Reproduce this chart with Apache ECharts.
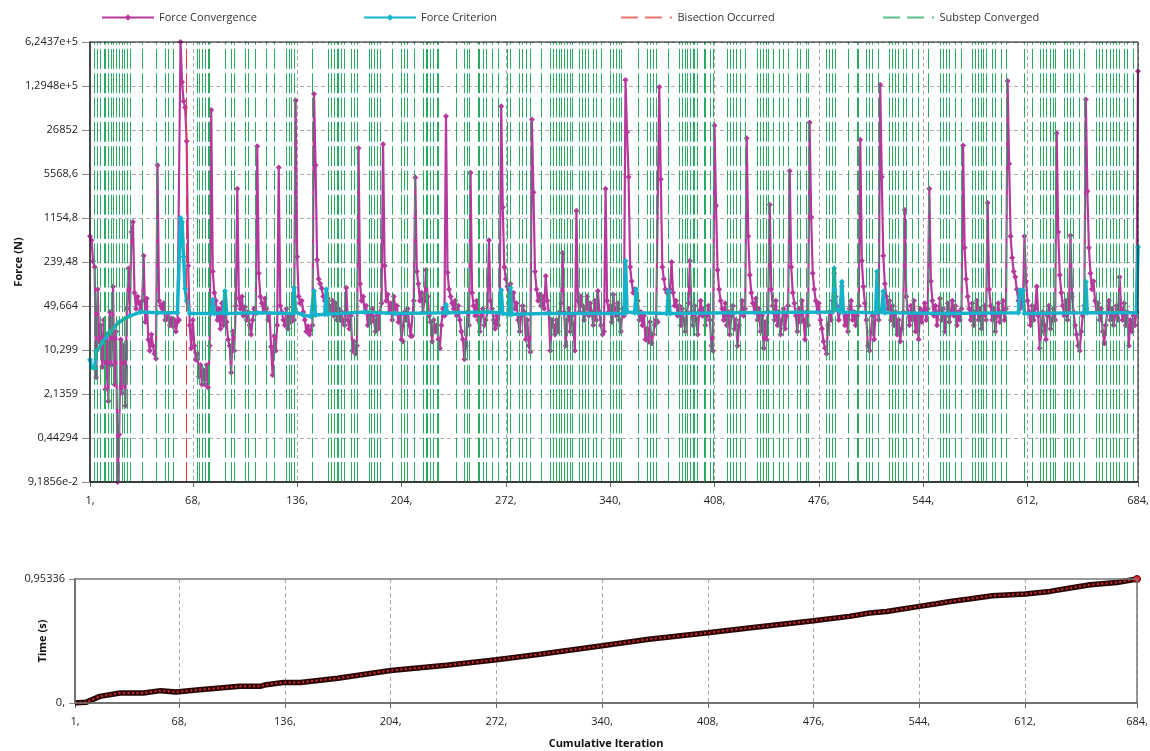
<!DOCTYPE html>
<html>
<head>
<meta charset="utf-8">
<title>Force Convergence</title>
<script src="https://cdn.jsdelivr.net/npm/echarts@6.0.0/dist/echarts.min.js"></script>
<style>
  html, body { margin: 0; padding: 0; background: #fff; }
  #chart { width: 1150px; height: 751px; }
</style>
</head>
<body>
<div id="chart"></div>
<script>
// x ticks (cumulative iteration)
const iterTicks = [1, 68, 136, 204, 272, 340, 408, 476, 544, 612, 684];
// log force axis: 10 equal steps from min to max
const forceMin = 0.091856;
const forceMax = 624370;
const forceTickLabels = ['9,1856e-2', '0,44294', '2,1359', '10,299', '49,664', '239,48',
  '1154,8', '5568,6', '26852', '1,2948e+5', '6,2437e+5'];

// force convergence, one value per iteration, grouped by start iteration
const forceConvSegments = [
  [1, [600, 520, 245, 200, 3.9, 90, 13.7, 25, 5.6, 30, 2.5, 18, 1.65, 40, 6, 100, 3, 20, 0.0919, 0.5,
       15, 2.2, 12, 1.4, 45, 190, 35, 700, 1000, 80]],
  [31, [45, 70, 55, 42, 60, 300, 28, 65, 15, 10, 18, 12, 9, 7.5, 7600, 60, 50, 45, 55, 30,
        31, 38, 25, 32, 24, 30, 20, 28, 30, 624370]],
  [61, [150000, 75000, 60000, 18000, 210]],
  [66, [25, 11, 30, 12, 7.3, 9, 4, 6, 3, 5, 3, 6, 2.7, 12, 55000]],
  [81, [170, 80, 60, 30, 45, 22, 55, 25, 60, 28, 15, 12, 4.6, 20, 10, 50, 3300, 65, 45, 70,
        35, 48, 30, 40, 25, 18, 30, 45, 38, 15000]],
  [111, [160, 70, 55, 40, 65, 45, 30, 38, 11.6, 4.2, 17, 10, 25, 7000, 50, 40, 30, 25, 45, 22,
         35, 28, 48, 30, 77000]],
  [136, [290, 70, 55, 60, 40, 30, 20, 24, 18, 21, 25, 97000]],
  [148, [7600, 260, 130, 110, 94, 70, 60, 45, 65, 50, 40, 60, 35, 55, 30, 45, 30, 40, 28, 25,
         95, 30, 22, 35, 10, 14, 9, 12, 14000]],
  [177, [110, 60, 70, 40, 50, 25, 38, 28, 45, 30, 20, 35, 22, 40, 55, 16200, 210, 60, 75, 40,
         55, 30, 70, 45, 50, 28, 35, 15, 14, 40, 30, 45, 25, 17, 17, 60, 4900]],
  [214, [170, 110, 60, 80, 40, 60, 180, 70, 35, 28, 14, 30, 20, 25, 15, 11, 25, 45, 35, 44000,
         165, 90, 70, 55, 45, 60, 35, 50, 30, 20, 15, 7.4, 12, 40, 25, 5800]],
  [250, [80, 50, 35, 60, 30, 20, 35, 45, 25, 30, 40, 520, 60, 45, 30, 22, 35, 25, 40, 63000,
         1700, 200, 130, 100, 70, 110, 60, 80, 45, 55, 30, 20, 35, 50, 40, 15, 30, 12, 9.6, 39000]],
  [290, [2900, 170, 90, 60, 75, 50, 70, 45, 145, 60, 40, 10, 30, 25, 18, 30, 20, 40, 55, 330,
         40, 12, 30, 45, 20, 35, 25, 10, 1500, 60, 40, 70, 50, 30, 45, 70, 35, 55, 40, 25,
         60, 30, 85, 40, 25, 18, 20, 3300, 60, 40, 50, 28, 75, 45, 35, 55, 30, 20, 45, 35, 160000]],
  [351, [25000, 5000, 200, 120, 80, 90, 50, 60, 30, 40, 25, 35, 15, 22, 14, 28, 13, 18, 25, 30,
         28, 125000, 4600, 200, 130, 90, 80, 60, 90, 240, 80, 50, 60, 35, 50, 25, 45, 30, 20, 40,
         55, 250, 40, 25, 50, 30, 18, 40, 60, 35, 45, 25, 35, 50, 30, 12, 10, 31400]],
  [409, [1800, 180, 90, 60, 45, 30, 55, 25, 40, 18, 35, 50, 22, 30, 12, 25, 40, 60, 35, 45,
         20000, 600, 150, 80, 55, 40, 65, 30, 45, 20, 35, 11, 28, 15, 40, 1850, 90, 50, 30, 60,
         25, 40, 18, 30, 45, 22, 35, 50, 6200, 200, 80, 55, 35, 20, 45, 28, 60, 30, 15, 40,
         25, 35000, 1200, 160, 90, 60, 40, 55, 30, 22, 14, 11, 9, 25, 40, 30, 60, 160, 70, 45,
         30, 50, 100, 40, 25, 35, 20, 45, 60, 30, 40, 25, 35, 50, 19000]],
  [504, [250, 100, 55, 30, 12, 10, 20, 35, 15, 40, 60, 30, 136000, 5000, 300, 110, 70, 45, 60, 30,
         50, 25, 40, 18, 30, 14, 22, 40, 1540, 70, 40, 25, 50, 30, 60, 20, 35, 15, 45, 28,
         40, 55, 30, 45, 3300, 120, 60, 35, 50, 25, 40, 65, 30, 45, 20, 35, 55, 28, 40, 60,
         35, 50, 25, 40, 30, 45, 15400]],
  [571, [400, 130, 70, 45, 30, 55, 25, 40, 60, 30, 45, 22, 35, 50, 30, 2000, 90, 50, 30, 45,
         20, 35, 55, 28, 40, 60, 30, 45, 155000, 8000, 600, 280, 170, 140, 90, 60, 45, 80, 50, 600,
         120, 60, 40, 25, 50, 30, 45, 100, 35, 11, 20, 40, 25, 15, 35, 50, 22, 30, 45, 30,
         24000]],
  [632, [700, 150, 80, 50, 35, 60, 30, 45, 620, 70, 40, 25, 18, 12, 10, 20, 35, 50, 80000, 3000,
         400, 160, 90, 120, 60, 40, 55, 30, 45, 20, 13, 25, 40, 60, 30, 45, 25, 35, 50, 30,
         140, 45, 30, 55, 25, 40, 12, 30, 20, 35, 25, 40, 220000]]
];

// force criterion, [iteration, value]
const forceCriterion = [[1, 7.3], [2, 5.6], [4, 5.3], [5, 9.8], [9, 13.4], [14, 19.7], [20, 28], [27, 35],
  [34, 40], [45, 39], [58, 39], [60, 1155], [61, 1000], [62, 290], [63, 93], [64, 60], [66, 38],
  [80, 38], [81, 62], [82, 38], [88, 39], [89, 85], [90, 38], [110, 39], [133, 38], [134, 95],
  [135, 40], [140, 36], [145, 34], [146, 35], [147, 85], [148, 36], [154, 37], [155, 90], [156, 37],
  [180, 40], [200, 38], [232, 39], [233, 52], [234, 39], [260, 40], [268, 39], [269, 88], [270, 38],
  [274, 37], [275, 95], [276, 37], [300, 38], [349, 38], [350, 248], [351, 40], [356, 39], [357, 90],
  [358, 39], [377, 38], [378, 85], [379, 38], [420, 39], [485, 40], [486, 192], [487, 45], [490, 40],
  [491, 118], [492, 40], [513, 39], [514, 170], [515, 40], [517, 40], [518, 84], [519, 39], [560, 38],
  [606, 39], [607, 87], [609, 87], [610, 38], [649, 39], [650, 118], [651, 39], [683, 39], [684, 409]];

// iterations where a substep converged / bisection happened
const substepConverged = [4, 6, 8, 10, 11, 13, 15, 16, 18, 20, 22, 23, 25, 27, 35, 44, 50, 52, 55,
  71, 72, 74, 76, 78, 79, 89, 93, 95, 102, 104, 109, 116, 121, 129, 131, 132, 134,
  146, 156, 158, 160, 162, 163, 165, 167, 171, 173, 175, 183, 184, 186, 188, 190, 198, 204, 206,
  208, 212, 218, 220, 221, 223, 225, 227, 228, 240, 245, 247, 248, 254, 255, 257, 259, 263, 267, 273,
  275, 281, 283, 285, 288, 295, 301, 303, 305, 307, 308, 310, 312, 314, 315, 320, 322, 324, 326,
  329, 331, 334, 340, 342, 344, 346, 347, 358, 364, 366, 368, 370, 378, 385, 387, 389, 390, 392,
  394, 395, 397, 401, 402, 405, 407,
  416, 418, 420, 422, 425, 428, 436, 438, 440, 442, 443, 446, 450, 453, 456, 462, 464, 468, 469,
  481, 483, 485, 487, 495, 501, 502, 507, 509, 511, 515, 522, 524, 526, 528, 531, 533, 537, 541,
  547, 555, 557, 559, 561, 565, 569, 576, 578, 580, 582, 583, 585, 589, 591, 595, 598, 610, 615,
  620, 622, 624, 627, 629, 630, 636, 638, 640, 642, 646, 649, 657, 659, 661, 663, 666, 668, 670,
  672, 675, 677, 681];
const bisectionOccurred = [64];

// time (s) against cumulative iteration
const timePoints = [[1, 0], [8, 0.005], [17, 0.051], [30, 0.077], [45, 0.077], [56, 0.095], [66, 0.085],
  [81, 0.102], [94, 0.115], [107, 0.128], [120, 0.128], [124, 0.141], [135, 0.158], [146, 0.158],
  [170, 0.19], [204, 0.25], [240, 0.29], [272, 0.333], [300, 0.375], [340, 0.44], [370, 0.49],
  [408, 0.54], [440, 0.585], [476, 0.633], [499, 0.666], [512, 0.692], [523, 0.704], [544, 0.743],
  [555, 0.763], [564, 0.781], [576, 0.8], [591, 0.825], [612, 0.838], [628, 0.858], [641, 0.884],
  [654, 0.909], [671, 0.927], [684, 0.95336]];
const timeMax = 0.95336;

// position on the 0..10 log axis
function level(v) {
  return Math.log(v / forceMin) / Math.log(forceMax / forceMin) * 10;
}

const forceConvData = [];
forceConvSegments.forEach(function (seg) {
  seg[1].forEach(function (v, k) {
    forceConvData.push([seg[0] + k, level(v)]);
  });
});
const forceCritData = forceCriterion.map(function (p) { return [p[0], level(p[1])]; });

const font = 'Open Sans';
const green = '#2aab62';
const red = '#e8383d';
const magenta = '#b5399c';
const cyan = '#14b3cc';
// dashed legend icon "— — ·"
const dashIcon = 'path://M0 0H17V2H0Z M24 0H41V2H24Z M49 0H51V2H49Z';

function iterAxis(gridIndex, name) {
  return {
    type: 'value', gridIndex: gridIndex, min: 1, max: 684,
    name: name, nameLocation: 'middle', nameGap: 30, nameMoveOverlap: false,
    nameTextStyle: { fontFamily: font, fontSize: 11, fontWeight: 'bold', color: '#111' },
    axisLine: { lineStyle: { color: '#666', width: 2 } },
    axisTick: { length: 5, customValues: iterTicks, lineStyle: { color: '#666' } },
    axisLabel: {
      customValues: iterTicks, margin: 13, fontFamily: font, fontSize: 11, color: '#222',
      formatter: function (v) { return v + ','; }
    },
    splitLine: { show: true, lineStyle: { color: '#aaa', type: [4, 3] } }
  };
}

function legendAt(left, item) {
  return {
    left: left, top: 12, padding: 0, itemWidth: 52, itemHeight: item.icon ? 2 : 8,
    data: [item], textStyle: { fontFamily: font, fontSize: 11, color: '#333' }
  };
}

const chart = echarts.init(document.getElementById('chart'));
chart.setOption({
  animation: false,
  backgroundColor: '#fff',
  legend: [
    legendAt(101, { name: 'Force Convergence' }),
    legendAt(363, { name: 'Force Criterion' }),
    legendAt(621, { name: 'Bisection Occurred', icon: dashIcon }),
    legendAt(883, { name: 'Substep Converged', icon: dashIcon })
  ],
  grid: [
    { left: 90, top: 42, width: 1048, height: 440, show: true, borderColor: '#111', borderWidth: 1,
      z: 10, outerBoundsMode: 'none' },
    { left: 75, top: 579, width: 1062, height: 124, show: true, borderColor: '#777', borderWidth: 1.5,
      z: 10, outerBoundsMode: 'none' }
  ],
  xAxis: [
    iterAxis(0, ''),
    Object.assign(iterAxis(1, 'Cumulative Iteration'), { nameGap: 35 })
  ],
  yAxis: [
    {
      type: 'value', gridIndex: 0, min: 0, max: 10, interval: 1,
      name: 'Force (N)', nameLocation: 'middle', nameGap: 66, nameMoveOverlap: false,
      nameTextStyle: { fontFamily: font, fontSize: 11, fontWeight: 'bold', color: '#111' },
      axisLine: { show: true, lineStyle: { color: '#7f7f7f', width: 2 } },
      axisTick: { show: true, length: 8, lineStyle: { color: '#888' } },
      axisLabel: {
        margin: 12, fontFamily: font, fontSize: 11, color: '#222',
        formatter: function (v) { return forceTickLabels[Math.round(v)]; }
      },
      splitLine: { show: true, lineStyle: { color: '#aaa', type: [4, 3] } }
    },
    {
      type: 'value', gridIndex: 1, min: 0, max: timeMax, interval: timeMax,
      name: 'Time (s)', nameLocation: 'middle', nameGap: 27, nameMoveOverlap: false,
      nameTextStyle: { fontFamily: font, fontSize: 11, fontWeight: 'bold', color: '#111' },
      axisLine: { show: true, lineStyle: { color: '#666', width: 2 } },
      axisTick: { show: true, length: 6, lineStyle: { color: '#888' } },
      axisLabel: {
        margin: 10, fontFamily: font, fontSize: 11, color: '#222',
        formatter: function (v) { return v === 0 ? '0,' : '0,95336'; }
      },
      splitLine: { show: false }
    }
  ],
  series: [
    {
      name: 'Substep Converged', type: 'line', xAxisIndex: 0, yAxisIndex: 0, data: [],
      symbol: 'none', color: '#5cbf88', z: 1,
      lineStyle: { color: '#5cbf88', width: 1.2 },
      markLine: {
        silent: true, symbol: 'none', label: { show: false }, animation: false,
        lineStyle: { color: green, width: 1, type: [20, 4.3] },
        data: substepConverged.map(function (i) { return { xAxis: i }; })
      }
    },
    {
      name: 'Bisection Occurred', type: 'line', xAxisIndex: 0, yAxisIndex: 0, data: [],
      symbol: 'none', color: '#ee7070', z: 2,
      lineStyle: { color: '#ee7070', width: 1.2 },
      markLine: {
        silent: true, symbol: 'none', label: { show: false }, animation: false,
        lineStyle: { color: red, width: 1, type: [20, 4.3] },
        data: bisectionOccurred.map(function (i) { return { xAxis: i }; })
      }
    },
    {
      name: 'Force Convergence', type: 'line', xAxisIndex: 0, yAxisIndex: 0, data: forceConvData,
      color: magenta, symbol: 'diamond', symbolSize: 6, z: 3,
      lineStyle: { color: magenta, width: 2.2 },
      itemStyle: { color: magenta }
    },
    {
      name: 'Force Criterion', type: 'line', xAxisIndex: 0, yAxisIndex: 0, data: forceCritData,
      color: cyan, symbol: 'diamond', symbolSize: 6, z: 4,
      lineStyle: { color: cyan, width: 3.5 },
      itemStyle: { color: cyan }
    },
    {
      name: 'Time', type: 'line', xAxisIndex: 1, yAxisIndex: 1, data: timePoints,
      symbol: 'none', z: 3,
      lineStyle: { color: '#2a0606', width: 5.5 }
    },
    {
      name: 'Time dots', type: 'line', xAxisIndex: 1, yAxisIndex: 1, data: timePoints,
      symbol: 'none', z: 4,
      lineStyle: { color: '#d42a2a', width: 2, type: [2, 2.5] },
      markPoint: {
        silent: true, symbol: 'circle', symbolSize: 7, label: { show: false },
        itemStyle: { color: '#e02828', borderColor: '#600', borderWidth: 1 },
        data: [{ coord: timePoints[timePoints.length - 1] }]
      }
    }
  ]
});
</script>
</body>
</html>
